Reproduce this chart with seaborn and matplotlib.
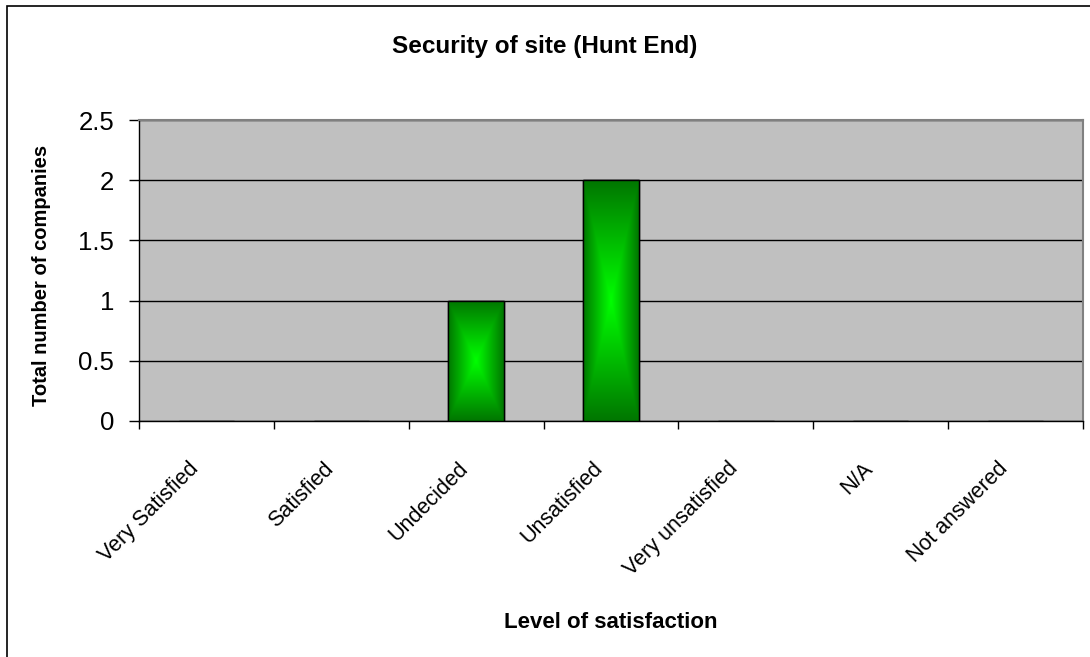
import matplotlib
matplotlib.use('Agg')
import matplotlib.pyplot as plt
import matplotlib.transforms as mtransforms
import numpy as np
import pandas as pd
import seaborn as sns
from matplotlib.patches import Rectangle
from matplotlib.ticker import FuncFormatter, MultipleLocator

niveis = ['Very Satisfied', 'Satisfied', 'Undecided', 'Unsatisfied',
          'Very unsatisfied', 'N/A', 'Not answered']
empresas = [0, 0, 1, 2, 0, 0, 0]
y_ticks = [0, 0.5, 1, 1.5, 2, 2.5]

df = pd.DataFrame({'nivel': niveis, 'total': empresas})

sns.set_style('white')
plt.rcParams['font.family'] = ['Liberation Sans', 'DejaVu Sans']
plt.rcParams['text.color'] = 'black'
plt.rcParams['axes.labelcolor'] = 'black'
plt.rcParams['xtick.color'] = 'black'
plt.rcParams['ytick.color'] = 'black'

fig = plt.figure(figsize=(10.9, 6.57), dpi=100)
ax = fig.add_axes([139/1090, 1 - 421/657, (1083 - 139)/1090, (421 - 120)/657])

sns.barplot(x='nivel', y='total', data=df, width=0.41, color='#00a000',
            edgecolor='black', linewidth=1, ax=ax, zorder=3)

# gradiente "do centro" em cada barra
n = 200
u = np.linspace(-1, 1, n)
U, V = np.meshgrid(u, u)
t = np.maximum(np.abs(U), np.abs(V))
centro = np.array([0, 255, 0]) / 255
borda = np.array([0, 118, 0]) / 255
img = centro[None, None, :] * (1 - t[..., None]) + borda[None, None, :] * t[..., None]
for p in ax.patches:
    if p.get_height() <= 0:
        continue
    x0, y0 = p.get_x(), p.get_y()
    im = ax.imshow(img, extent=[x0, x0 + p.get_width(), y0, y0 + p.get_height()],
                   aspect='auto', zorder=3.5, interpolation='bilinear')
    im.set_clip_path(p)
    ax.add_patch(Rectangle((x0, y0), p.get_width(), p.get_height(), fill=False,
                           edgecolor='black', linewidth=1, zorder=4))

ax.set_facecolor('#c0c0c0')
ax.set_xlim(-0.5, len(niveis) - 0.5)
ax.set_ylim(0, 2.5)
ax.set_yticks(y_ticks)
ax.yaxis.set_major_formatter(FuncFormatter(lambda v, pos: '%g' % v))
ax.yaxis.grid(True, color='black', linewidth=1)
ax.set_axisbelow(True)
ax.tick_params(axis='y', direction='out', length=7, width=1, color='black',
               labelsize=18.5, pad=11, left=True)

ax.set_xticks(range(len(niveis)))
ax.set_xticklabels(niveis, rotation=45, ha='right', va='center',
                   rotation_mode='anchor', fontsize=15.5)
ax.tick_params(axis='x', which='major', length=0, pad=32)
desloc = mtransforms.ScaledTranslation(-11/100, 0, fig.dpi_scale_trans)
for lab in ax.get_xticklabels():
    lab.set_transform(lab.get_transform() + desloc)
ax.xaxis.set_minor_locator(MultipleLocator(1, offset=0.5))
ax.tick_params(axis='x', which='minor', direction='out', length=6, width=1,
               color='black', bottom=True)

for s in ['top', 'right']:
    ax.spines[s].set_color('#808080')
    ax.spines[s].set_linewidth(1.5)
for s in ['left', 'bottom']:
    ax.spines[s].set_color('black')
    ax.spines[s].set_linewidth(1)

ax.set_xlabel('Level of satisfaction', fontsize=16, fontweight='bold')
ax.set_ylabel('Total number of companies', fontsize=14.5, fontweight='bold')
ax.xaxis.set_label_coords(0.5, (421 - 622) / 301)
ax.yaxis.set_label_coords((42 - 139) / 944, (421 - 275) / 301)
for lab in (ax.xaxis.label, ax.yaxis.label):
    lab.set_verticalalignment('center')
fig.text(0.5, 1 - 47/657, 'Security of site (Hunt End)', ha='center', va='center',
         fontsize=17.5, fontweight='bold')

# moldura do gráfico
fig.patches.append(Rectangle((7/1090, -0.1), 1.2, 1 - 6/657 + 0.1, fill=False,
                             edgecolor='black', linewidth=1.2,
                             transform=fig.transFigure, figure=fig))

plt.savefig('out.png', dpi=100)
